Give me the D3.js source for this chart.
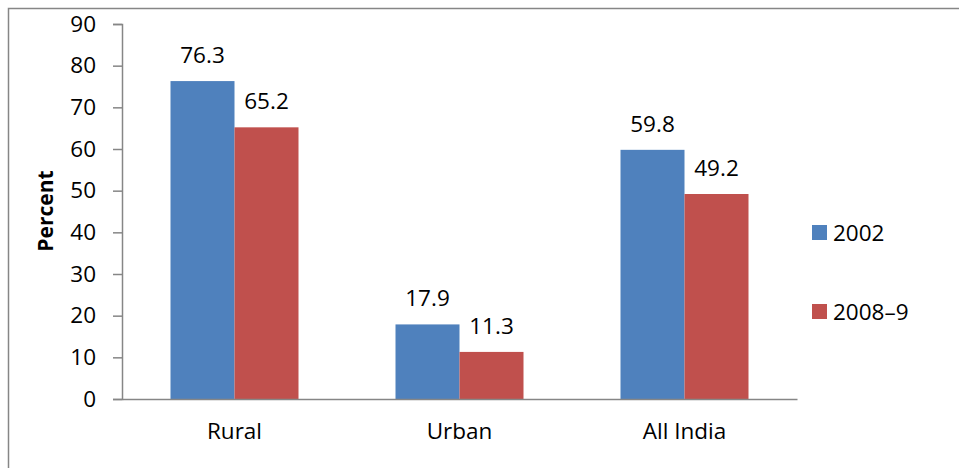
<!DOCTYPE html>
<html>
<head>
<meta charset="utf-8">
<script src="https://cdn.jsdelivr.net/npm/d3@7/dist/d3.min.js"></script>
<style>
  html, body { margin: 0; padding: 0; background: #fff; }
  svg { display: block; }
  text { font-family: "Open Sans", Lato, sans-serif; fill: #000; }
</style>
</head>
<body>
<svg id="chart" width="959" height="468"></svg>
<script>
// Share of households (percent) by region and survey round
const categories = ["Rural", "Urban", "All India"];
const seriesNames = ["2002", "2008–9"];
const values2002 = [76.3, 17.9, 59.8];
const values2008 = [65.2, 11.3, 49.2];
const yTicks = [0, 10, 20, 30, 40, 50, 60, 70, 80, 90];
const colors = ["#4F81BD", "#C0504D"];

const series = [values2002, values2008];
const FONT = "'Open Sans', Lato, sans-serif";
const FS = 22.5;

const svg = d3.select("#chart");
const W = 959, H = 468;

// outer frame (only top and left edges fall inside the view)
svg.append("rect")
  .attr("x", 8.5).attr("y", 8.5)
  .attr("width", W + 20).attr("height", H + 20)
  .attr("fill", "none").attr("stroke", "#868686").attr("stroke-width", 1.5);

const plot = { left: 122, right: 797, top: 24, bottom: 399 };

const x = d3.scaleBand()
  .domain(categories)
  .range([plot.left, plot.right])
  .paddingInner(97 / 225)
  .paddingOuter(97 / 450);

const xInner = d3.scaleBand()
  .domain(d3.range(series.length))
  .range([0, x.bandwidth()]);

const y = d3.scaleLinear().domain([0, 90]).range([plot.bottom, plot.top]);

// bars
series.forEach((vals, si) => {
  const g = svg.append("g");
  g.selectAll("rect")
    .data(vals)
    .join("rect")
    .attr("x", (d, i) => x(categories[i]) + xInner(si))
    .attr("y", d => y(d))
    .attr("width", xInner.bandwidth())
    .attr("height", d => y(0) - y(d))
    .attr("fill", colors[si]);

  // value labels
  g.selectAll("text")
    .data(vals)
    .join("text")
    .attr("x", (d, i) => x(categories[i]) + xInner(si) + xInner.bandwidth() / 2)
    .attr("y", d => y(d) - 18)
    .attr("text-anchor", "middle")
    .attr("font-size", FS)
    .text(d => d.toFixed(1));
});

// y axis
const yAxis = d3.axisLeft(y).tickValues(yTicks).tickSize(9).tickPadding(17);
const yg = svg.append("g")
  .attr("transform", `translate(${plot.left},0)`)
  .call(yAxis);
yg.select(".domain").attr("stroke", "#868686").attr("stroke-width", 1.5);
yg.selectAll(".tick line").attr("stroke", "#868686").attr("stroke-width", 1.5);
yg.selectAll(".tick text")
  .attr("font-size", FS)
  .attr("font-family", FONT)
  .attr("fill", "#000");

// x axis
const xAxis = d3.axisBottom(x).tickSize(0).tickPadding(24);
const xg = svg.append("g")
  .attr("transform", `translate(0,${plot.bottom})`)
  .call(xAxis);
xg.select(".domain").attr("stroke", "#868686").attr("stroke-width", 1.5);
xg.selectAll(".tick text")
  .attr("font-size", FS)
  .attr("font-family", FONT)
  .attr("fill", "#000");

// y-axis title
svg.append("text")
  .attr("transform", "translate(53,211) rotate(-90)")
  .attr("text-anchor", "middle")
  .attr("font-size", 21)
  .attr("font-weight", "bold")
  .text("Percent");

// legend
const legend = svg.append("g");
const legendY = [225, 304];
seriesNames.forEach((name, i) => {
  legend.append("rect")
    .attr("x", 812).attr("y", legendY[i])
    .attr("width", 15).attr("height", 15)
    .attr("fill", colors[i]);
  legend.append("text")
    .attr("x", 833).attr("y", legendY[i] + 7.5)
    .attr("dy", "0.36em")
    .attr("font-size", FS)
    .text(name);
});
</script>
</body>
</html>
